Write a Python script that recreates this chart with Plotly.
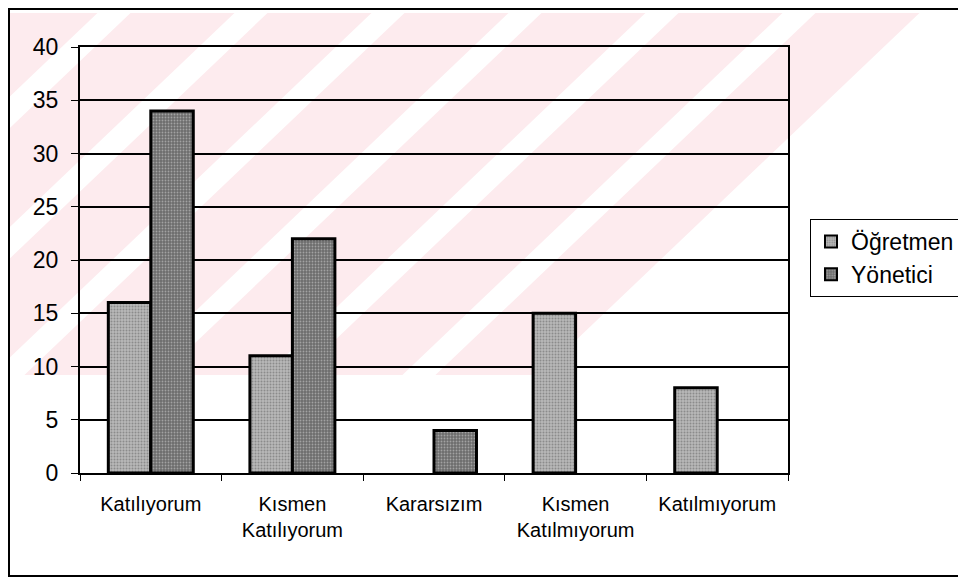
import plotly.graph_objects as go

categories = ["Katılıyorum", "Kısmen<br>Katılıyorum", "Kararsızım", "Kısmen<br>Katılmıyorum", "Katılmıyorum"]
ogretmen = [16, 11, 0, 15, 8]
yonetici = [34, 22, 4, 0, 0]
y_ticks = [0, 5, 10, 15, 20, 25, 30, 35, 40]

# The page body has an 8px margin, so the figure is drawn 8px in from the window edge.
OFF = 8
W, H = 966 - OFF, 578 - OFF
L, R, T, B = 80 - OFF, 788 - OFF, 47 - OFF, 473 - OFF  # plot area in figure pixels


def px(x):
    """reference window pixel x -> paper fraction"""
    return (x - OFF - L) / (R - L)


def py(y):
    """reference window pixel y -> paper fraction"""
    return (B - (y - OFF)) / (B - T)


FONT = "Liberation Sans, Arial, sans-serif"


def outline(vals):
    return [3 if v > 0 else 0 for v in vals]


fig = go.Figure()
fig.add_trace(go.Bar(
    name="Öğretmen", x=categories, y=ogretmen,
    marker=dict(color="#b8b8b8", line=dict(color="black", width=outline(ogretmen)),
                pattern=dict(shape=".", fgcolor="#5e5e5e", size=3, solidity=0.35)),
))
fig.add_trace(go.Bar(
    name="Yönetici", x=categories, y=yonetici,
    marker=dict(color="#6c6c6c", line=dict(color="black", width=outline(yonetici)),
                pattern=dict(shape=".", fgcolor="#d8d8d8", size=3, solidity=0.3)),
))

# watermark-like pink diagonal stripes (background, from the scanned original)
shapes = []
pink = "#fdebee"
y_top, y_bot = 13, 375
slope = 1.05
for k in range(-7, 3):
    a = 541.5 + 137 * k
    b = 645.5 + 137 * k
    if b > 925:
        b = 920
    if a >= b:
        continue
    d = slope * (y_bot - y_top)
    path = "M {:.4f},{:.4f} L {:.4f},{:.4f} L {:.4f},{:.4f} L {:.4f},{:.4f} Z".format(
        px(a), py(y_top), px(b), py(y_top), px(b - d), py(y_bot), px(a - d), py(y_bot))
    shapes.append(dict(type="path", xref="paper", yref="paper", path=path,
                       fillcolor=pink, line=dict(width=0), layer="below"))

# outer chart border
shapes.append(dict(type="rect", xref="paper", yref="paper",
                   x0=px(9), x1=px(964), y0=py(576), y1=py(9),
                   line=dict(color="black", width=2), layer="above"))

fig.update_layout(
    width=W, height=H,
    margin=dict(l=L, r=W - R, t=T, b=H - B, autoexpand=False),
    paper_bgcolor="white",
    plot_bgcolor="rgba(0,0,0,0)",
    barmode="group",
    bargap=0.4,
    bargroupgap=0,
    font=dict(family=FONT, color="black"),
    shapes=shapes,
    legend=dict(
        x=px(810), y=py(219), xanchor="left", yanchor="top",
        bgcolor="white", bordercolor="black", borderwidth=1,
        font=dict(size=23, family=FONT, color="black"),
        itemsizing="constant", tracegroupgap=0,
    ),
    xaxis=dict(
        type="category", showline=True, linecolor="black", linewidth=2,
        mirror=True, ticks="outside", ticklen=6, tickcolor="black",
        tickson="boundaries", showgrid=False,
        tickfont=dict(size=20, family=FONT, color="black"),
        ticklabelstandoff=12,
    ),
    yaxis=dict(
        range=[0, 40], tickvals=y_ticks, showline=True, linecolor="black",
        linewidth=2, mirror=True, ticks="outside", ticklen=7, tickcolor="black",
        showgrid=True, gridcolor="black", gridwidth=2, zeroline=False,
        tickfont=dict(size=23, family=FONT, color="black"),
        ticklabelstandoff=8,
    ),
)

fig.write_html("out.html")
